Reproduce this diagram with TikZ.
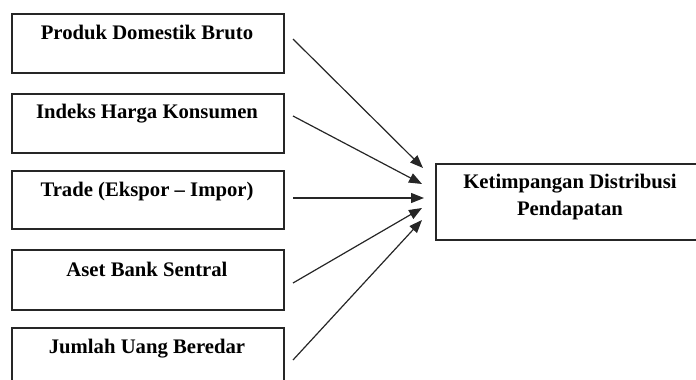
\documentclass[tikz,border=0pt]{standalone}
\usepackage{fontspec}
\setmainfont{Liberation Serif}
\usetikzlibrary{arrows.meta}
\begin{document}
\begin{tikzpicture}[x=1pt,y=-1pt,
  box/.style={draw=black!85,line width=1.5pt,rectangle,inner sep=0pt,anchor=north west},
  lbl/.style={font=\bfseries\fontsize{20.7}{27}\selectfont,anchor=base,inner sep=0pt},
  arr/.style={line width=1.2pt,black!85,-{Triangle[length=13pt,width=10pt]}}]
\useasboundingbox (0,0) rectangle (696,380);
\clip (0,0) rectangle (696,380);
\node[box,minimum width=272pt,minimum height=59pt] (b1) at (11,13) {};
\node[box,minimum width=272pt,minimum height=59pt] (b2) at (11,93) {};
\node[box,minimum width=272pt,minimum height=58pt] (b3) at (11,170) {};
\node[box,minimum width=272pt,minimum height=60pt] (b4) at (11,249) {};
\node[box,minimum width=272pt,minimum height=70pt] (b5) at (11,327) {};
\node[box,minimum width=270pt,minimum height=76pt] (r) at (435,163) {};
\node[lbl] (t1) at (147,39) {Produk Domestik Bruto};
\node[lbl] (t2) at (147,118) {Indeks Harga Konsumen};
\node[lbl] (t3) at (147,196) {Trade (Ekspor -- Impor)};
\node[lbl] (t4) at (147,276) {Aset Bank Sentral};
\node[lbl] (t5) at (147,353) {Jumlah Uang Beredar};
\node[lbl] (r1) at (570,188) {Ketimpangan Distribusi};
\node[lbl] (r2) at (570,215) {Pendapatan};
\coordinate (s1) at (293,39);
\coordinate (s2) at (293,116);
\coordinate (s3) at (293,198);
\coordinate (s4) at (293,283);
\coordinate (s5) at (293,360);
\coordinate (e1) at (423,168);
\coordinate (e2) at (422,184);
\coordinate (e3) at (424,198);
\coordinate (e4) at (422,208);
\coordinate (e5) at (422,220);
\draw[arr] (s1) -- (e1);
\draw[arr] (s2) -- (e2);
\draw[arr] (s3) -- (e3);
\draw[arr] (s4) -- (e4);
\draw[arr] (s5) -- (e5);
\end{tikzpicture}
\end{document}
